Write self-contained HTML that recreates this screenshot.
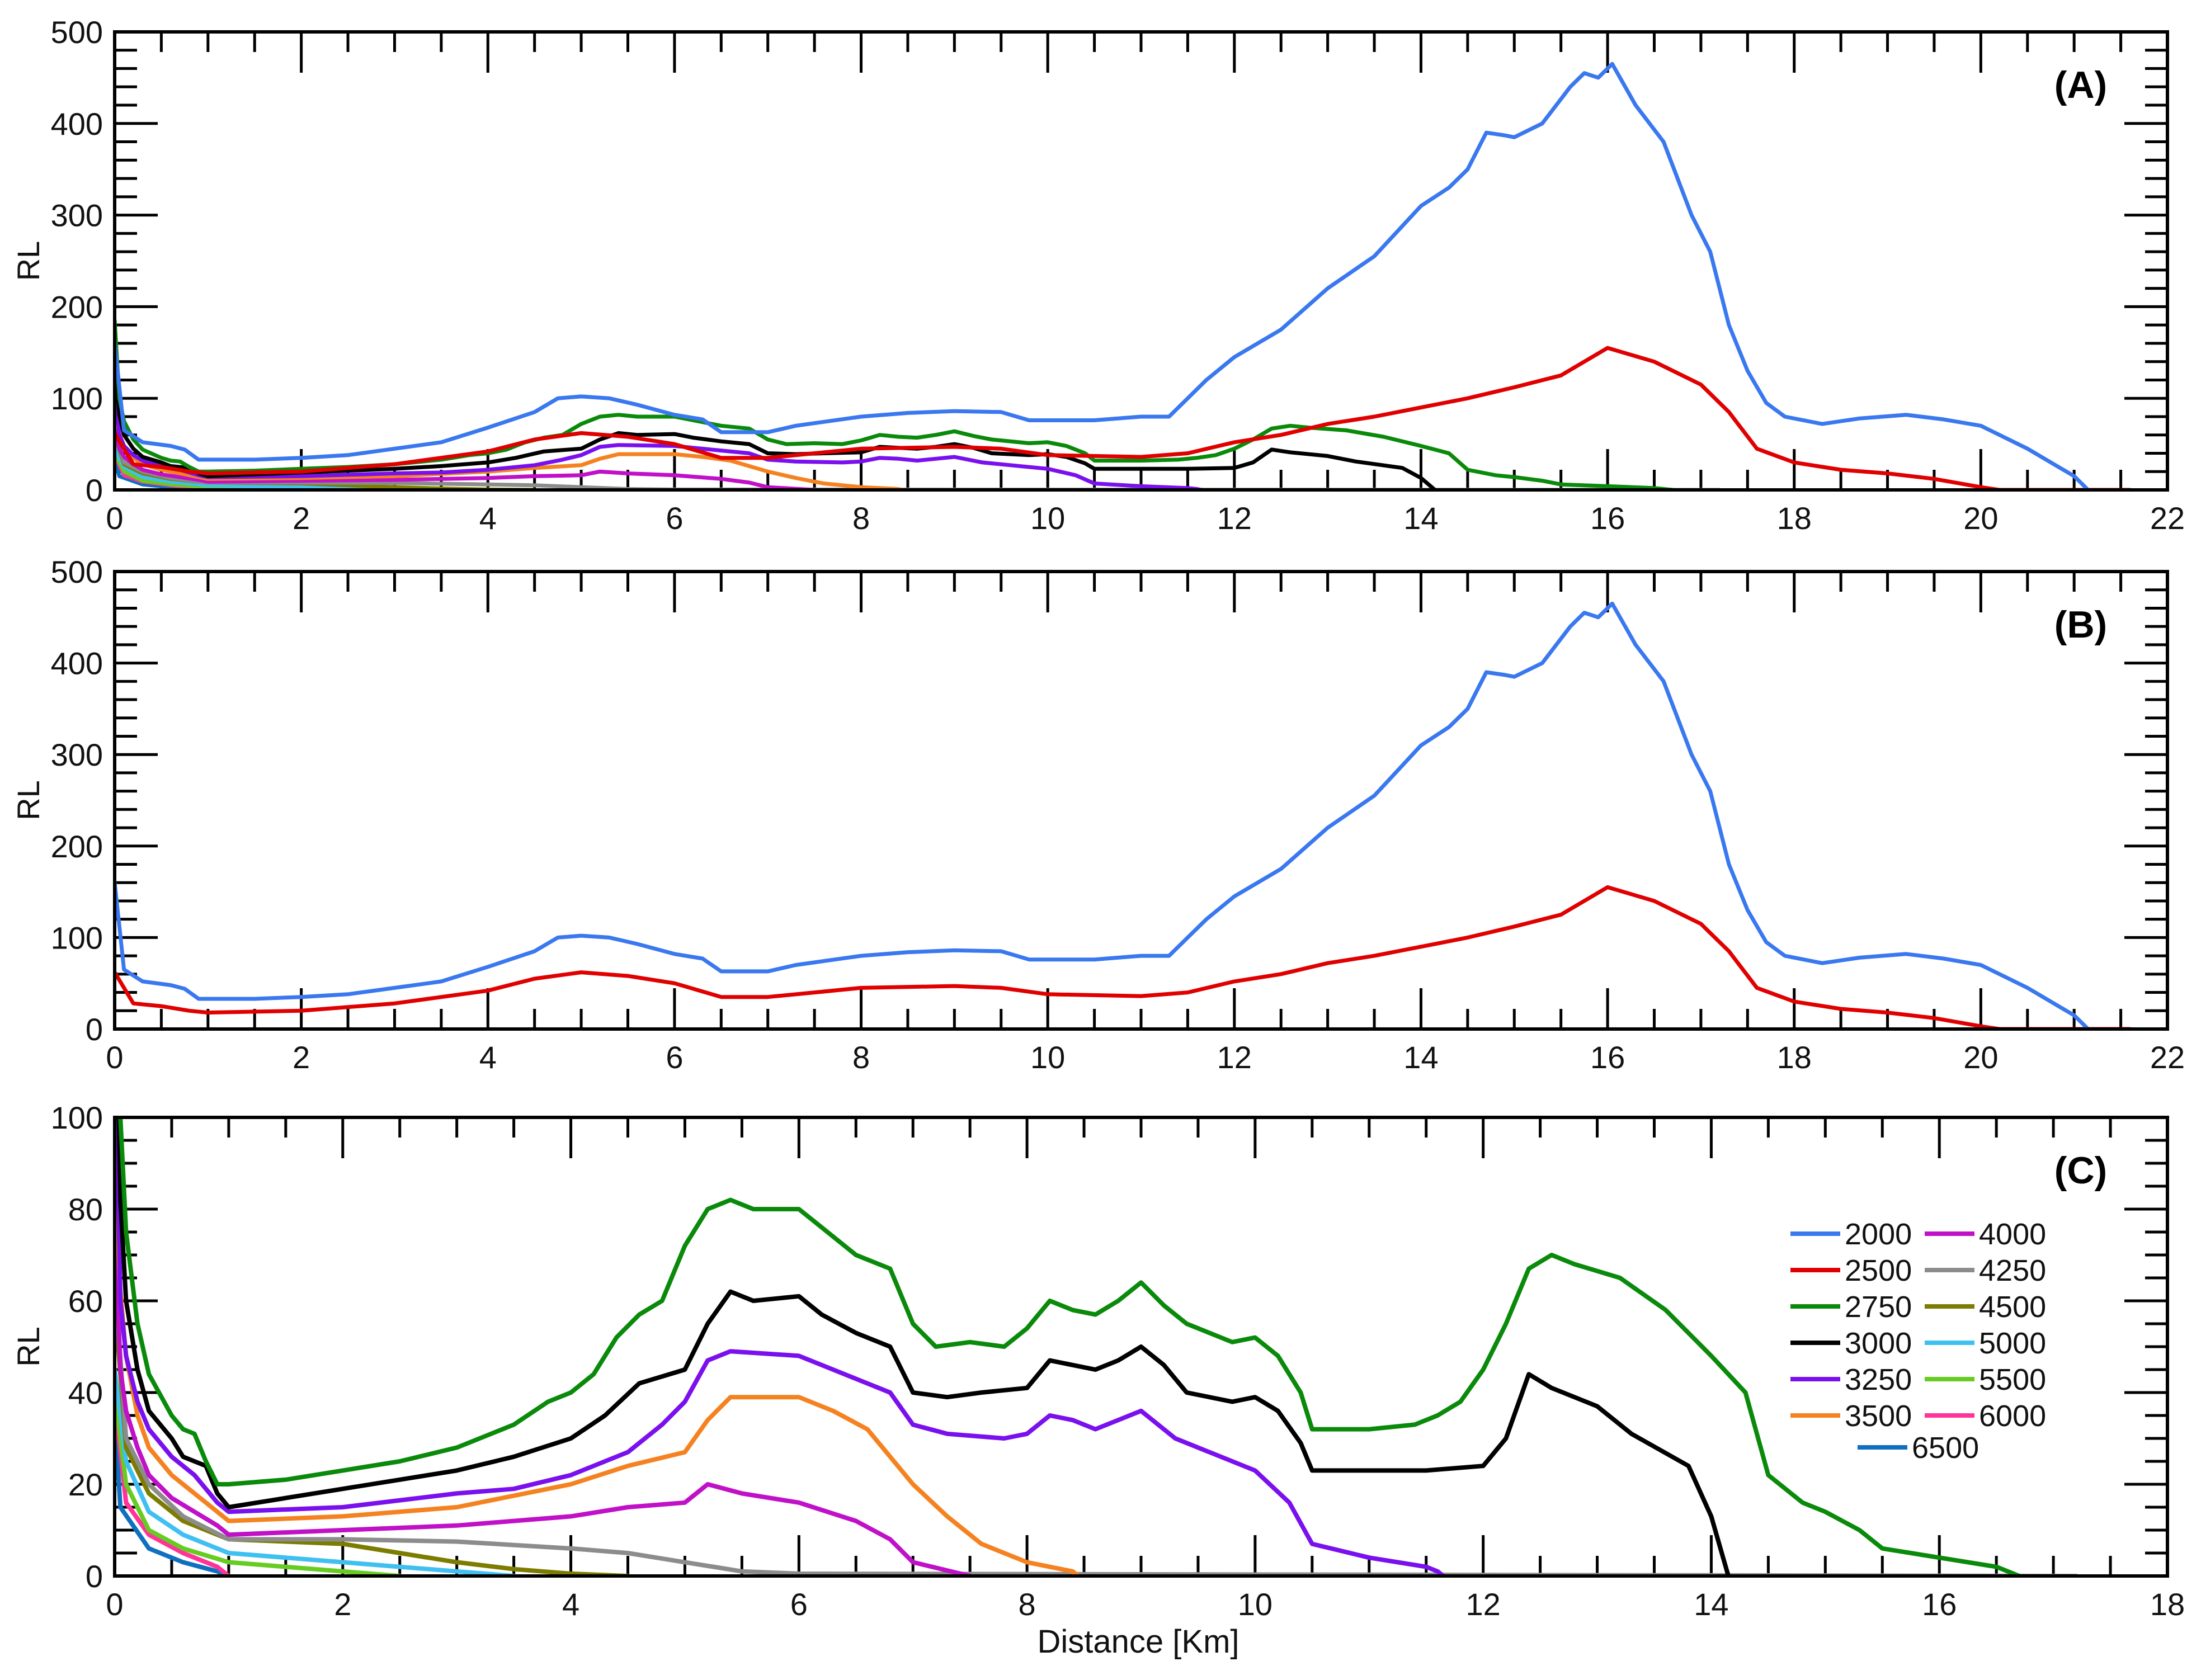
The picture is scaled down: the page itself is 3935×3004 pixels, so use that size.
<!DOCTYPE html>
<html><head><meta charset="utf-8"><style>
html,body{margin:0;padding:0;background:#fff;}
svg{display:block;font-family:"Liberation Sans",sans-serif;}
</style></head><body>
<svg id="chart" width="3935" height="3004" viewBox="0 0 3935 3004" xmlns="http://www.w3.org/2000/svg">
<rect width="3935" height="3004" fill="#fff"/>
</svg>
<script>
// ---- data ----
const s2000x = [0,0.1,0.3,0.6,0.75,0.9,1.5,2,2.5,3,3.5,4,4.5,4.75,5,5.3,5.6,6,6.3,6.5,7,7.3,8,8.5,9,9.5,9.8,10.5,11,11.3,11.5,11.7,12,12.5,13,13.5,14,14.3,14.5,14.7,14.9,15,15.3,15.6,15.75,15.9,16.05,16.3,16.6,16.9,17.1,17.3,17.5,17.7,17.9,18.3,18.7,19.2,19.6,20,20.5,21,21.15];
const s2000y = [160,65,52,48,44,33,33,35,38,45,52,68,85,100,102,100,93,82,77,63,63,70,80,84,86,85,76,76,80,80,100,120,145,175,220,255,310,330,350,390,387,385,400,440,455,450,465,420,380,300,260,180,130,95,80,72,78,82,77,70,45,15,0];
const s2500x = [0,0.2,0.5,0.8,1,2,3,4,4.5,5,5.5,6,6.5,7,7.5,8,9,9.5,10,11,11.5,12,12.5,13,13.5,14,14.5,15,15.5,16,16.5,17,17.3,17.6,18,18.5,19,19.5,20,20.2,21.6];
const s2500y = [62,28,25,20,18,20,28,42,55,62,58,50,35,35,40,45,47,45,38,36,40,52,60,72,80,90,100,112,125,155,140,115,85,45,30,22,18,12,3,0,0];
const s2750x = [0,0.05,0.1,0.2,0.3,0.5,0.6,0.7,0.8,0.9,1,1.5,2,2.5,3,3.5,3.8,4,4.2,4.4,4.6,4.8,5,5.2,5.4,5.6,6,6.2,6.5,6.8,7,7.2,7.5,7.8,8,8.2,8.4,8.6,8.8,9,9.2,9.4,9.8,10,10.2,10.4,10.5,11,11.4,11.6,11.8,12,12.2,12.4,12.6,12.8,13.2,13.6,14,14.3,14.5,14.8,15,15.3,15.5,16,16.5,16.7];
const s2750y = [185,100,75,55,44,35,32,31,25,20,20,21,23,25,28,33,38,40,44,52,57,60,72,80,82,80,80,76,70,67,55,50,51,50,54,60,58,57,60,64,59,55,51,52,48,40,32,32,33,35,38,45,55,67,70,68,65,58,48,40,22,16,14,10,6,4,2,0];
const s3000x = [0,0.05,0.1,0.2,0.3,0.5,0.6,0.8,0.9,1,1.5,2,3,3.5,4,4.3,4.6,5,5.2,5.4,5.6,6,6.2,6.5,6.8,7,7.3,7.6,8,8.2,8.4,8.6,8.8,9,9.2,9.4,9.8,10,10.2,10.4,10.5,11,11.5,12,12.2,12.4,12.6,13,13.3,13.8,14,14.15];
const s3000y = [150,82,60,45,36,30,26,24,18,15,17,19,23,26,30,35,42,45,55,62,60,61,57,53,50,40,39,40,41,47,46,45,47,50,46,40,38,39,36,29,23,23,23,24,30,44,41,37,31,24,13,0];
const s3250x = [0,0.05,0.1,0.2,0.3,0.5,0.7,0.9,1,2,3,3.5,4,4.5,4.8,5,5.2,5.4,6,6.2,6.5,6.8,7,7.3,7.8,8,8.2,8.4,8.6,8.8,9,9.3,9.6,10,10.3,10.5,11,11.5,11.6,11.65];
const s3250y = [125,60,48,38,32,26,22,16,14,15,18,19,22,27,33,38,47,49,48,46,43,40,33,31,30,31,35,34,32,34,36,30,27,23,16,7,4,2,1,0];
const s3500x = [0,0.05,0.1,0.2,0.3,0.5,0.7,0.9,1,2,3,4,4.5,5,5.2,5.4,6,6.3,6.6,7,7.3,7.6,8,8.4,8.45];
const s3500y = [90,62,48,35,28,22,18,14,12,13,15,20,24,27,34,39,39,36,32,20,13,7,3,1,0];
const s4000x = [0,0.05,0.1,0.2,0.3,0.5,0.7,0.9,1,2,3,4,4.5,5,5.2,5.5,6,6.5,6.8,7,7.5];
const s4000y = [80,45,36,28,22,17,14,11,9,10,11,13,15,16,20,18,16,12,8,3,0];
const s4250x = [0,0.1,0.3,0.6,1,2,3,4,4.5,5,5.5,6,17.2];
const s4250y = [65,30,20,13,8,8,7.5,6,5,3,1,0.5,0];
const s4500x = [0,0.1,0.3,0.6,1,2,2.5,3,3.5,4,4.5];
const s4500y = [60,28,18,12,8,7,5,3,1.5,0.5,0];
const s5000x = [0,0.1,0.3,0.6,1,2,2.5,3,3.5];
const s5000y = [45,25,14,9,5,3,2,1,0];
const s5500x = [0,0.1,0.3,0.6,1,1.5,2,2.5];
const s5500y = [40,20,10,6,3,2,1,0];
const s6000x = [0,0.1,0.3,0.6,0.9,1];
const s6000y = [38,16,9,5,2,0];
const s6500x = [0,0.05,0.3,0.6,0.9,1];
const s6500y = [35,15,6,3,1,0];
const seriesNames = ["2000","2500","2750","3000","3250","3500","4000","4250","4500","5000","5500","6000","6500"];
const seriesColors = ["#3a78f0","#e00000","#0a8a0a","#000000","#7a10ee","#f58220","#c010c8","#8c8c8c","#7c7c00","#40c0f0","#66cc22","#ff3399","#1070c0"];
const seriesX = [s2000x,s2500x,s2750x,s3000x,s3250x,s3500x,s4000x,s4250x,s4500x,s5000x,s5500x,s6000x,s6500x];
const seriesY = [s2000y,s2500y,s2750y,s3000y,s3250y,s3500y,s4000y,s4250y,s4500y,s5000y,s5500y,s6000y,s6500y];
const ticksAB_x = [0,2,4,6,8,10,12,14,16,18,20,22];
const ticksAB_y = [0,100,200,300,400,500];
const ticksC_x = [0,2,4,6,8,10,12,14,16,18];
const ticksC_y = [0,20,40,60,80,100];

const NS = "http://www.w3.org/2000/svg";
const svg = document.getElementById("chart");
function mk(tag, attrs, parent){const e=document.createElementNS(NS,tag);for(const k in attrs)e.setAttribute(k,attrs[k]);(parent||svg).appendChild(e);return e;}

const L=205,R=3875;
const panels=[
 {id:"a",top:57,bot:876,xmax:22,ymax:500,xt:ticksAB_x,yt:ticksAB_y,xminor:0.5,yminor:20,show:[12,11,10,9,8,7,6,5,4,3,2,1,0],label:"(A)",lw:7},
 {id:"b",top:1022,bot:1840,xmax:22,ymax:500,xt:ticksAB_x,yt:ticksAB_y,xminor:0.5,yminor:20,show:[1,0],label:"(B)",lw:7},
 {id:"c",top:1998,bot:2818,xmax:18,ymax:100,xt:ticksC_x,yt:ticksC_y,xminor:0.5,yminor:5,show:[12,11,10,9,8,7,6,5,4,3,2],label:"(C)",lw:8}
];
panels.forEach(p=>{
 const sx=v=>L+(R-L)*v/p.xmax, sy=v=>p.bot-(p.bot-p.top)*v/p.ymax;
 const g=mk("g",{});
 
 
 const cp=mk("clipPath",{id:"clip-"+p.id},g);
 mk("rect",{x:L,y:p.top,width:R-L,height:p.bot-p.top},cp);
 const tk=mk("g",{stroke:"#000","stroke-width":5},g);
 
 
 for(let v=0;v<=p.xmax+1e-9;v+=p.xminor){
  const major=Math.abs(v/2-Math.round(v/2))<1e-6; const len=major?73:36; const x=sx(v);
  mk("line",{x1:x,y1:p.top,x2:x,y2:p.top+len},tk); mk("line",{x1:x,y1:p.bot,x2:x,y2:p.bot-len},tk);
 }
 for(let v=0;v<=p.ymax+1e-9;v+=p.yminor){
  const major=Math.abs(v/(p.yt[1])-Math.round(v/(p.yt[1])))<1e-6; const len=major?77:40; const y=sy(v);
  mk("line",{x1:L,y1:y,x2:L+len,y2:y},tk); mk("line",{x1:R,y1:y,x2:R-len,y2:y},tk);
 }
 const sg=mk("g",{"clip-path":"url(#clip-"+p.id+")",fill:"none","stroke-linejoin":"round","stroke-linecap":"round"},g);
 p.show.forEach(i=>{
  const d=seriesX[i].map((x,j)=>(j?"L":"M")+sx(x).toFixed(1)+","+sy(seriesY[i][j]).toFixed(1)).join("");
  const path=mk("path",{d:d,stroke:seriesColors[i],"stroke-width":p.lw},sg);
  
  
 });
 const fr=mk("rect",{x:L,y:p.top,width:R-L,height:p.bot-p.top,fill:"none",stroke:"#000","stroke-width":6},g);
 
 
 p.xt.forEach(v=>{const t=mk("text",{x:sx(v),y:p.bot+70,"font-size":56,"text-anchor":"middle",fill:"#111"},g);t.textContent=v;
  
  });
 p.yt.forEach(v=>{const t=mk("text",{x:184,y:sy(v)+20,"font-size":56,"text-anchor":"end",fill:"#111"},g);t.textContent=v;
  
  });
 const yl=mk("text",{x:0,y:0,"font-size":56,"text-anchor":"middle",fill:"#111",transform:"translate(70,"+((p.top+p.bot)/2)+") rotate(-90)"},g);
 yl.textContent="RL";
 
 
 const pl=mk("text",{x:3720,y:p.top+118,"font-size":68,"font-weight":"bold","text-anchor":"middle",fill:"#000"},g);
 pl.textContent=p.label;
 
 
});
const xt=mk("text",{x:2035,y:2955,"font-size":58,"text-anchor":"middle",fill:"#111"});
xt.textContent="Distance [Km]";


const lg=mk("g",{});


seriesNames.forEach((n,i)=>{
 let lx,ly;
 if(i<6){lx=3201;ly=2206+i*65;} else if(i<12){lx=3441;ly=2206+(i-6)*65;} else {lx=3321;ly=2588;}
 const e=mk("g",{},lg);
 
 
 mk("line",{x1:lx,y1:ly,x2:lx+89,y2:ly,stroke:seriesColors[i],"stroke-width":8},e);
 const t=mk("text",{x:lx+97,y:ly+19,"font-size":54,fill:"#111"},e);t.textContent=n;
});
</script>
</body></html>
